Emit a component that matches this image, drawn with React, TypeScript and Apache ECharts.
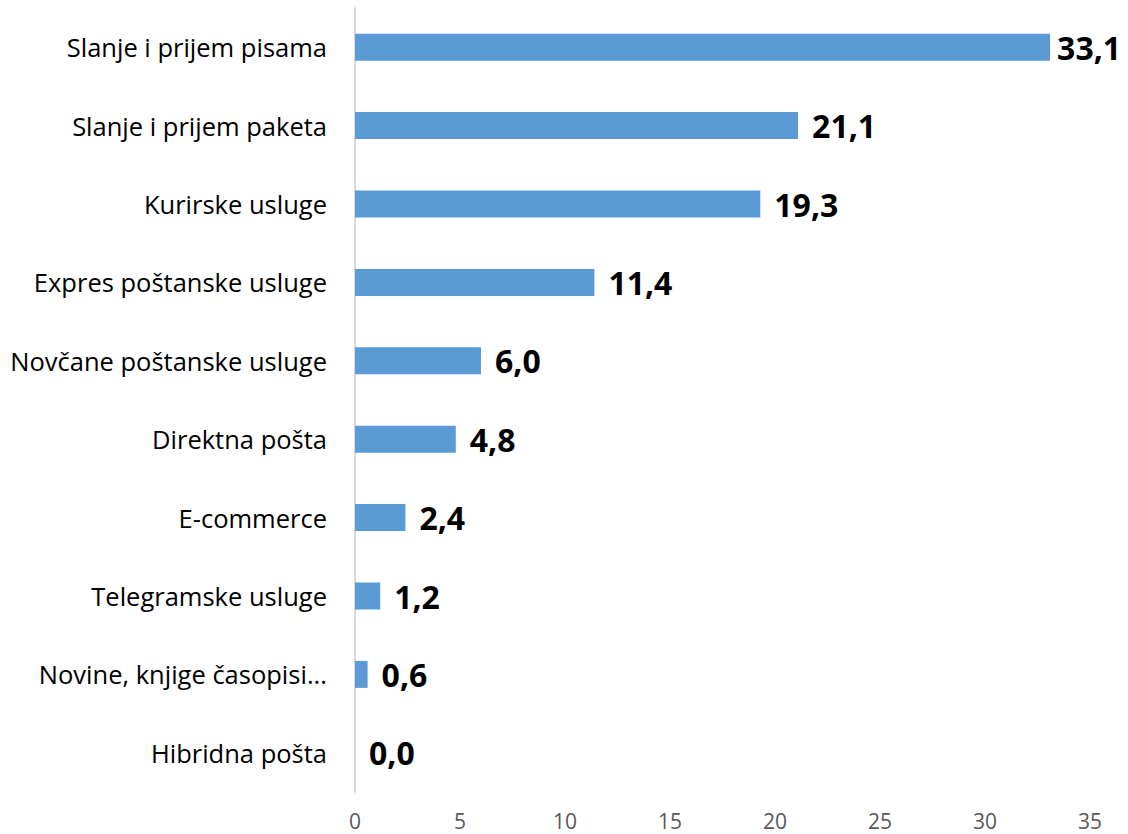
import React, { useEffect, useRef } from "react";
import * as echarts from "echarts";

const categories = [
  "Slanje i prijem pisama",
  "Slanje i prijem paketa",
  "Kurirske usluge",
  "Expres poštanske usluge",
  "Novčane poštanske usluge",
  "Direktna pošta",
  "E-commerce",
  "Telegramske usluge",
  "Novine, knjige časopisi...",
  "Hibridna pošta",
];
const values = [33.1, 21.1, 19.3, 11.4, 6.0, 4.8, 2.4, 1.2, 0.6, 0.0];
const xTicks = [0, 5, 10, 15, 20, 25, 30, 35];

export default function App() {
  const ref = useRef<HTMLDivElement>(null);
  useEffect(() => {
    if (!ref.current) return;
    const chart = echarts.init(ref.current, null, { renderer: "svg" });
    const font = "'Open Sans', sans-serif";
    const maxVal = Math.max(...values);
    chart.setOption({
      animation: false,
      grid: { left: 355, right: 38, top: 8, bottom: 42, containLabel: false },
      xAxis: {
        type: "value",
        min: xTicks[0],
        max: xTicks[xTicks.length - 1],
        interval: 5,
        axisLine: { show: false },
        axisTick: { show: false },
        splitLine: { show: false },
        axisLabel: {
          color: "#595959",
          fontSize: 21,
          lineHeight: 21,
          fontFamily: font,
          margin: 18,
        },
      },
      yAxis: {
        type: "category",
        inverse: true,
        data: categories,
        axisLine: { show: true, lineStyle: { color: "#D9D9D9", width: 2 } },
        axisTick: { show: false },
        axisLabel: { color: "#000", fontSize: 25.5, fontFamily: font, margin: 28 },
      },
      series: [
        {
          type: "bar",
          data: values.map((v) =>
            v === maxVal ? { value: v, label: { distance: 7 } } : v
          ),
          barWidth: 27,
          itemStyle: { color: "#5B9BD5" },
          label: {
            show: true,
            position: "right",
            distance: 14,
            color: "#000",
            fontWeight: "bold",
            fontSize: 32,
            fontFamily: font,
            formatter: (p: any) => Number(p.value).toFixed(1).replace(".", ","),
          },
        },
      ],
    });
    return () => chart.dispose();
  }, []);
  return (
    <div
      ref={ref}
      style={{ position: "absolute", left: 0, top: 0, width: 1128, height: 834 }}
    />
  );
}
